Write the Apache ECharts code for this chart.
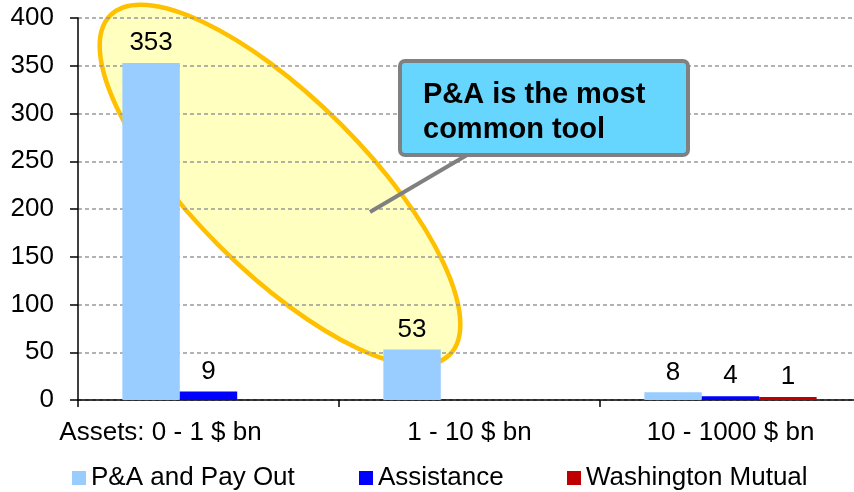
<!DOCTYPE html>
<html>
<head>
<meta charset="utf-8">
<script src="https://cdn.jsdelivr.net/npm/echarts@6/dist/echarts.min.js"></script>
<style>
  html, body { margin: 0; padding: 0; background: #fff; }
  #chart { width: 854px; height: 492px; }
</style>
</head>
<body>
<div id="chart"></div>
<script>
// data
var categories = ["Assets: 0 - 1 $ bn", "1 - 10 $ bn", "10 - 1000 $ bn"];
var payOut = [353, 53, 8];
var assistance = [9, null, 4];
var wamu = [null, null, 1];
var yTicks = { min: 0, max: 400, interval: 50 };

(function () {
  var myChart = echarts.init(document.querySelector("#chart"));
  var font = "Liberation Sans, Arial, sans-serif";
  var fs = 26;
  var label = {
    show: true,
    position: "top",
    distance: 7,
    color: "#000",
    fontSize: fs,
    fontFamily: font,
  };
  var option = {
    animation: false,
    textStyle: { fontFamily: font },
    grid: { left: 78, top: 18, right: -7, bottom: 92, outerBoundsMode: "none" },
    legend: [
      { data: ["P&A and Pay Out"], left: 67 },
      { data: ["Assistance"], left: 354 },
      { data: ["Washington Mutual"], left: 562 },
    ].map(function (l) {
      l.top = 460;
      l.icon = "rect";
      l.itemWidth = 14;
      l.itemHeight = 14;
      l.textStyle = { color: "#000", fontSize: fs, fontFamily: font };
      return l;
    }),
    xAxis: {
      type: "category",
      data: categories,
      axisLine: { lineStyle: { color: "#000", width: 1.5 } },
      axisTick: { show: true, length: 7, lineStyle: { color: "#000", width: 1.5 } },
      axisLabel: {
        interval: 0,
        hideOverlap: false,
        color: "#000",
        fontSize: fs,
        fontFamily: font,
        margin: 20,
        //第一个标签偏左
        formatter: function (v, i) {
          return i === 0 ? "{a|" + v + "}" : v;
        },
        rich: {
          a: { fontSize: fs, fontFamily: font, color: "#000", padding: [0, 96, 0, 0] },
        },
      },
    },
    yAxis: {
      type: "value",
      min: yTicks.min,
      max: yTicks.max,
      interval: yTicks.interval,
      axisLine: { show: true, lineStyle: { color: "#000", width: 1.5 } },
      axisTick: { show: true, length: 8, lineStyle: { color: "#000", width: 1.5 } },
      axisLabel: { color: "#000", fontSize: fs, fontFamily: font, margin: 24 },
      splitLine: { lineStyle: { color: "#999", type: [4, 3], width: 1.5 } },
    },
    series: [
      {
        name: "P&A and Pay Out",
        type: "bar",
        data: payOut,
        itemStyle: { color: "#99CCFF" },
        barGap: 0,
        barCategoryGap: "34%",
        barMinHeight: 3,
        label: label,
      },
      {
        name: "Assistance",
        type: "bar",
        data: assistance,
        itemStyle: { color: "#0000FF" },
        barMinHeight: 3,
        label: label,
      },
      {
        name: "Washington Mutual",
        type: "bar",
        data: wamu,
        itemStyle: { color: "#C00000" },
        barMinHeight: 3,
        label: label,
      },
    ],
    graphic: [
      {
        type: "ellipse",
        z: -1,
        x: 280,
        y: 185,
        rotation: -Math.PI / 4,
        shape: { cx: 0, cy: 0, rx: 240, ry: 86 },
        style: { fill: "#FFFFC0", stroke: "#FFC000", lineWidth: 4.5 },
      },
      {
        type: "line",
        z: 100,
        shape: { x1: 370, y1: 212, x2: 467, y2: 155 },
        style: { stroke: "#808080", lineWidth: 4 },
      },
      {
        type: "rect",
        z: 100,
        shape: { x: 400, y: 61, width: 288, height: 94, r: 5 },
        style: { fill: "#66D6FF", stroke: "#808080", lineWidth: 4 },
      },
      {
        type: "text",
        z: 101,
        x: 423,
        y: 77,
        style: {
          text: "P&A is the most\ncommon tool",
          fill: "#000",
          font: "bold 29px " + font,
          lineHeight: 35,
        },
      },
    ],
  };
  myChart.setOption(option);
})();
</script>
</body>
</html>
